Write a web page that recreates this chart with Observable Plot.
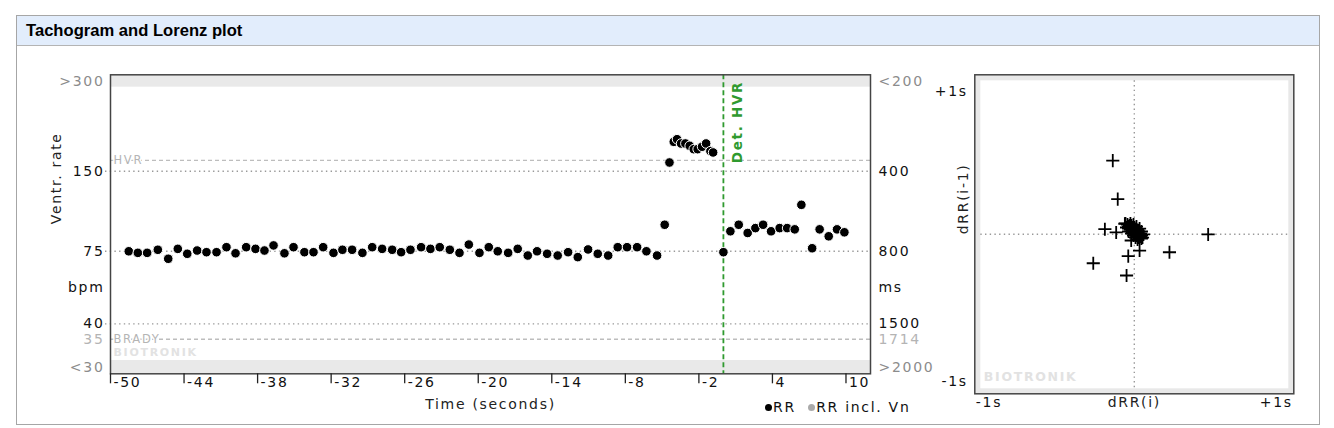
<!DOCTYPE html>
<html><head><meta charset="utf-8">
<script src="https://cdn.jsdelivr.net/npm/d3@7"></script>
<script src="https://cdn.jsdelivr.net/npm/@observablehq/plot@0.6"></script>
<style>
body{margin:0;background:#fff;font-family:"DejaVu Sans",Verdana,sans-serif;}
#panel{position:absolute;left:16px;top:15px;width:1304px;height:410px;border:1px solid #a6a6a6;box-sizing:border-box;}
#title{height:29px;background:#e2edfc;border-bottom:1px solid #b4b4b4;font:bold 16.6px "Liberation Sans",Arial,sans-serif;line-height:30px;padding-left:9px;color:#000;}
.abs{position:absolute;}
#legend{position:absolute;left:765px;top:399px;font-size:14px;letter-spacing:1.7px;color:#111;white-space:nowrap;}
#legend .dot{display:inline-block;width:7px;height:7px;border-radius:50%;margin-right:1px;vertical-align:1px;}
</style></head><body>
<div id="panel"><div id="title">Tachogram and Lorenz plot</div></div>
<div id="tacho" class="abs" style="left:0;top:50px;width:940px"></div>
<div id="lorenz" class="abs" style="left:930px;top:50px;width:404px"></div>
<div id="legend"><span class="dot" style="background:#000"></span>RR&nbsp;&nbsp;<span class="dot" style="background:#aaa"></span>RR incl. Vn</div>
<script>
// ---- Tachogram data (time in s relative to detection, ventricular rate in bpm)
const times = [-48.51,-47.77,-47.01,-46.14,-45.29,-44.51,-43.74,-42.93,-42.17,-41.35,
  -40.54,-39.80,-38.93,-38.17,-37.44,-36.70,-35.81,-35.07,-34.18,-33.44,
  -32.65,-31.81,-31.08,-30.29,-29.45,-28.65,-27.84,-27.02,-26.29,-25.53,
  -24.66,-23.90,-23.14,-22.32,-21.53,-20.77,-19.90,-19.14,-18.41,-17.56,
  -16.78,-15.96,-15.20,-14.38,-13.52,-12.67,-11.88,-11.04,-10.25,-9.40,
  -8.62,-7.86,-7.04,-6.28,-5.41,-4.79,
  -4.40,-4.05,-3.78,-3.45,-3.10,-2.75,-2.42,-2.10,-1.74,-1.41,-1.06,-0.84,
  0.0,0.57,1.25,1.98,2.61,3.24,3.89,4.59,5.20,5.82,6.36,7.24,7.85,8.59,9.27,9.87];
const rates = [75.0,74.0,74.0,76.0,70.3,76.6,73.4,75.5,74.4,74.4,
  77.7,73.7,77.7,76.6,75.5,78.9,73.7,77.7,74.4,74.4,
  77.7,74.0,76.0,76.0,74.0,77.7,76.6,76.0,74.4,76.0,
  77.7,76.6,77.7,76.0,74.0,79.5,74.0,77.7,75.0,74.0,
  76.6,72.3,75.0,73.4,72.3,74.4,71.3,76.2,73.4,72.3,
  77.7,77.7,77.7,75.0,72.3,94.4,
  161.9,193.7,198.1,190.9,190.9,187.1,181.7,181.7,185.6,190.9,178.6,176.6,
  74.4,89.2,94.4,87.9,91.7,94.4,89.2,91.7,91.7,90.7,112.2,77.0,90.7,85.4,90.7,88.4];

// ---- Axis ticks
const xTicks = [-50,-44,-38,-32,-26,-20,-14,-8,-2,4,10];
const rateTickValues = [328,150,75,40,35,27.5];
const bpmLabels = [">300","150","75","40","35","<30"];
const msLabels = ["<200","400","800","1500","1714",">2000"];
const refRates = [150,75,40];
const zoneRates = [165,35];
const zoneLabels = ["HVR","BRADY"];
const detectionTime = [0];
const detectionLabel = "Det. HVR";
const bandTop = [311,346.2];
const bandBottom = [25.94,29.1];

// ---- Lorenz plot data (seconds)
const dRRi = [-0.139,-0.107,-0.190,-0.117,-0.061,-0.020,0.034,-0.039,-0.265,-0.050,0.227,0.477,
  -0.057,-0.044,-0.037,-0.031,-0.025,-0.018,-0.012,-0.005,0.001,0.008,-0.005,0.014,0.021,0.008,
  0.027,0.034,0.021,0.040,0.046,0.034,0.046,-0.025,-0.037,-0.012,0.001,0.014,0.027,-0.018,0.001,
  0.014,0.027,0.040,
  -0.050,-0.037,-0.018,-0.005,0.008,0.021,-0.025,-0.005,0.014,0.034,0.046,0.059,0.053];
const dRRprev = [0.476,0.227,0.033,0.012,0.068,-0.040,-0.105,-0.141,-0.187,-0.266,-0.116,-0.001,
  0.070,0.063,0.050,0.057,0.044,0.037,0.044,0.031,0.025,0.031,0.018,0.018,0.012,0.005,
  -0.001,0.005,-0.008,-0.014,-0.008,-0.021,-0.027,0.031,0.037,0.018,0.005,-0.008,-0.021,0.057,0.044,
  0.031,0.018,0.005,
  0.044,0.018,0.005,-0.008,-0.021,-0.034,0.070,0.063,0.050,0.037,0.018,-0.001,-0.021];

// ---- styles
const FONT = '"DejaVu Sans", Verdana, sans-serif';
const tickTone = ["#8c8c8c","#111","#111","#111","#b4b4b4","#8c8c8c"];
const green = "#2f9a2f";

const rr = times.map((t,i)=>({t, bpm: rates[i]}));
const ticks = rateTickValues.map((v,i)=>({v, bpm: bpmLabels[i], ms: msLabels[i], c: tickTone[i]}));
const zones = zoneRates.map((v,i)=>({v, label: zoneLabels[i]}));
const unitRate = Math.sqrt(75*40);

const tacho = Plot.plot({
  width: 940, height: 378,
  marginLeft: 110, marginRight: 70, marginTop: 24.3, marginBottom: 54.7,
  style: {background: "transparent", fontFamily: FONT, fontSize: "14px", letterSpacing: "1.7px", overflow: "visible"},
  x: {domain: [-50, 12], axis: null},
  y: {type: "log", domain: [bandBottom[0], bandTop[1]], axis: null},
  marks: [
    Plot.rect([bandTop, bandBottom], {x1: -50, x2: 12, y1: d=>d[0], y2: d=>d[1], fill: "#e9e9e9"}),
    Plot.ruleY(refRates, {y: d=>d, stroke: "#999", strokeWidth: 1.4, strokeDasharray: "1.4,3.3", insetLeft: -5}),
    Plot.ruleY(zones, {y: "v", stroke: "#bdbdbd", strokeWidth: 1.3, strokeDasharray: "4,3"}),
    Plot.text(["BIOTRONIK"], {text: d=>d, frameAnchor: "bottom-left", dx: 3, dy: -17.6, textAnchor: "start", fill: "#e2e2e2", fontWeight: "bold", fontSize: 11}),
    Plot.text(zones, {y: "v", text: "label", frameAnchor: "left", dx: 3, textAnchor: "start", fill: "#b4b4b4", stroke: "white", strokeWidth: 3, paintOrder: "stroke", fontSize: 11.5}),
    Plot.ruleX(detectionTime, {x: d=>d, stroke: green, strokeWidth: 1.8, strokeDasharray: "5,3"}),
    Plot.text(detectionTime, {x: d=>d, text: ()=>detectionLabel, frameAnchor: "top", rotate: -90, textAnchor: "end", dx: 9, dy: 6, fill: green, fontWeight: "bold", fontSize: 13.5, letterSpacing: "1.1px"}),
    Plot.dot(rr, {x: "t", y: "bpm", r: 4.8, fill: "black", stroke: "white", strokeWidth: 1}),
    Plot.frame({stroke: "#444", strokeWidth: 1.5}),
    Plot.ruleX(xTicks, {x: d=>d, stroke: "#222", strokeWidth: 1.3, insetTop: 299, insetBottom: -10}),
    Plot.text(xTicks, {x: d=>d, text: d=>String(d), frameAnchor: "bottom", dy: 13.4, dx: 3, textAnchor: "start", fill: "#111"}),
    Plot.text(ticks, {y: "v", text: "bpm", fill: "c", frameAnchor: "left", dx: -6, textAnchor: "end"}),
    Plot.text(ticks, {y: "v", text: "ms", fill: "c", frameAnchor: "right", dx: 8, textAnchor: "start"}),
    Plot.text([unitRate], {y: d=>d, text: ()=>"bpm", frameAnchor: "left", dx: -6, textAnchor: "end", fill: "#111"}),
    Plot.text([unitRate], {y: d=>d, text: ()=>"ms", frameAnchor: "right", dx: 8, textAnchor: "start", fill: "#111"}),
    Plot.text(["Ventr. rate"], {text: d=>d, frameAnchor: "left", dx: -54, rotate: -90, fill: "#222", letterSpacing: "1.3px"}),
    Plot.text(["Time (seconds)"], {text: d=>d, frameAnchor: "bottom", dy: 34.7, fill: "#222"})
  ]
});
document.getElementById("tacho").appendChild(tacho);

const lz = dRRi.map((x,i)=>({x, y: dRRprev[i]}));
const lorenz = Plot.plot({
  width: 404, height: 378,
  marginLeft: 44.3, marginRight: 40.7, marginTop: 24.3, marginBottom: 34.7,
  style: {background: "transparent", fontFamily: FONT, fontSize: "14px", letterSpacing: "1.7px", overflow: "visible"},
  x: {domain: [-1.03, 1.03], axis: null},
  y: {domain: [-1.03, 1.03], axis: null},
  marks: [
    Plot.frame({stroke: "#e8e8e8", strokeWidth: 5, inset: 3}),
    Plot.ruleX([0], {x: d=>d, stroke: "#999", strokeWidth: 1.4, strokeDasharray: "1.4,3.3", insetTop: 6, insetBottom: 6}),
    Plot.ruleY([0], {y: d=>d, stroke: "#999", strokeWidth: 1.4, strokeDasharray: "1.4,3.3", insetLeft: 6, insetRight: 6}),
    Plot.text(["BIOTRONIK"], {text: d=>d, frameAnchor: "bottom-left", dx: 9, dy: -13, textAnchor: "start", fill: "#e2e2e2", fontWeight: "bold", fontSize: 12.5}),
    Plot.dot(lz, {x: "x", y: "y", symbol: "plus", r: 4.3, stroke: "black", strokeWidth: 1.8}),
    Plot.frame({stroke: "#444", strokeWidth: 1.5}),
    Plot.text(["+1s"], {text: d=>d, frameAnchor: "top-left", dx: -7, dy: 11, textAnchor: "end", fill: "#111"}),
    Plot.text(["-1s"], {text: d=>d, frameAnchor: "bottom-left", dx: -7, dy: -8, textAnchor: "end", fill: "#111"}),
    Plot.text(["-1s"], {text: d=>d, frameAnchor: "bottom-left", dx: 1, dy: 13.4, textAnchor: "start", fill: "#111"}),
    Plot.text(["dRR(i)"], {text: d=>d, frameAnchor: "bottom", dy: 13.4, fill: "#222"}),
    Plot.text(["+1s"], {text: d=>d, frameAnchor: "bottom-right", dx: -1, dy: 13.4, textAnchor: "end", fill: "#111"}),
    Plot.text(["dRR(i-1)"], {text: d=>d, frameAnchor: "left", dx: -11.3, rotate: -90, fill: "#222", letterSpacing: "1.3px"})
  ]
});
document.getElementById("lorenz").appendChild(lorenz);
</script>
</body></html>
